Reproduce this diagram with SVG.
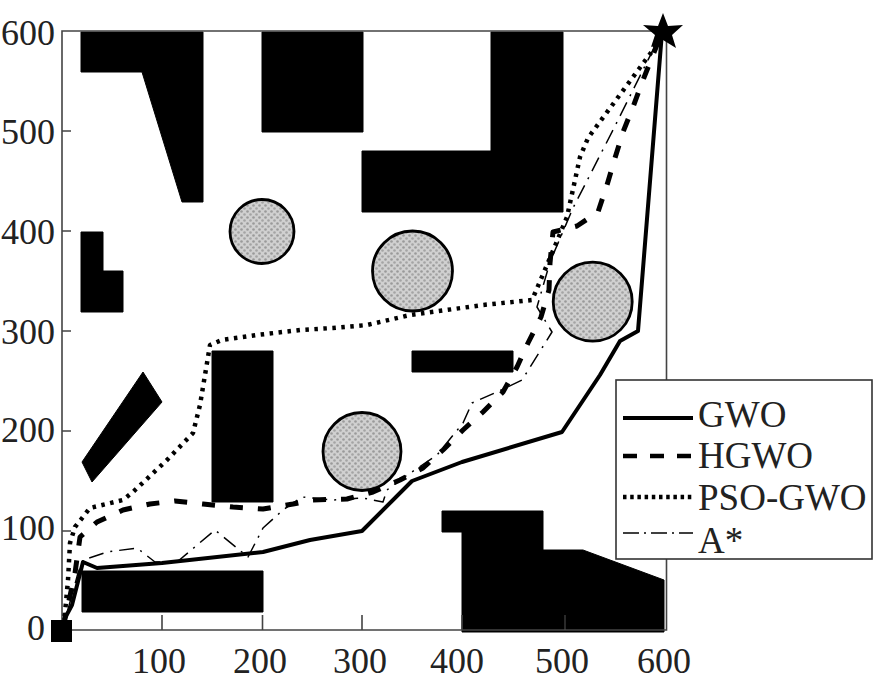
<svg xmlns="http://www.w3.org/2000/svg" width="873" height="683" viewBox="0 0 873 683">
<style>
text{font-family:"Liberation Serif","Times New Roman",serif;fill:#222}
.ax{font-size:36px}
.lg{font-size:37px}
.ob{fill:#000;stroke:#000;stroke-width:1;stroke-linejoin:round}
.ci{fill:url(#st);stroke:#000;stroke-width:2.800}
.frame{fill:none;stroke:#444;stroke-width:1.600}
.p{fill:none;stroke:#000;stroke-linejoin:round}
.gwo{stroke-width:4}
.hgwo{stroke-width:5;stroke-dasharray:13 15}
.pso{stroke-width:4.500;stroke-dasharray:3.500 5.500}
.astar{stroke-width:1.500;stroke-dasharray:15 7 2 7}
</style>
<defs>
<pattern id="st" width="6" height="6" patternUnits="userSpaceOnUse">
<rect width="6" height="6" fill="#d0d0d0"/>
<circle cx="1.500" cy="1.500" r="1.300" fill="#9a9a9a"/>
<circle cx="4.500" cy="4.500" r="1.300" fill="#a4a4a4"/>
</pattern>
</defs>
<rect width="873" height="683" fill="#fff"/>
<g id="obstacles">
<path id="ob1" class="ob" d="M81 32H203V202H182L142 72H81Z"/>
<path id="ob2" class="ob" d="M81 232H103V271H123V312H81Z"/>
<rect id="ob3" class="ob" x="262" y="32" width="101" height="100"/>
<path id="ob4" class="ob" d="M362 151H491V32H563V212H362Z"/>
<path id="ob5" class="ob" d="M143 372L162 402L92 482L82 462Z"/>
<rect id="ob6" class="ob" x="212" y="351" width="61" height="151"/>
<rect id="ob7" class="ob" x="412" y="351" width="101" height="21"/>
<rect id="ob8" class="ob" x="82" y="571" width="181" height="41"/>
<path id="ob9" class="ob" d="M442 511H543V550H583L664 580V632H462V532H442Z"/>
</g>
<g id="threats">
<circle id="c1" class="ci" cx="262" cy="231.500" r="32"/>
<circle id="c2" class="ci" cx="412.500" cy="271" r="40"/>
<circle id="c3" class="ci" cx="592.700" cy="301.700" r="39.500"/>
<circle id="c4" class="ci" cx="362" cy="451.500" r="39"/>
</g>
<g id="axes">
<path class="frame" d="M62 630V31H666.500V630H62"/>
<path class="frame" d="M62 131H71M62 231H71M62 331H71M62 431H71M62 531H71M162 630V615M262.500 630V615M362 630V615M462 630V615"/>
<path d="M565 630V615" fill="none" stroke="#555" stroke-width="1"/>
<g class="ax" text-anchor="end">
<text x="55" y="45">600</text>
<text x="55" y="144">500</text>
<text x="55" y="244">400</text>
<text x="55" y="344">300</text>
<text x="55" y="442">200</text>
<text x="55" y="540">100</text>
<text x="45" y="640">0</text>
</g>
<g class="ax" text-anchor="middle">
<text x="159" y="673">100</text>
<text x="260" y="673">200</text>
<text x="360" y="673">300</text>
<text x="457" y="673">400</text>
<text x="562" y="673">500</text>
<text x="664" y="673">600</text>
</g>
</g>
<g id="connectors">
<path id="path-astar" class="p astar" d="M67 613L78 573L83 560L107 552L137 548L155 562L177 562L215 530L248 557L263 528L283 510L302 497L333 500L363 498L383 502L387 490L400 480L437 455L463 423L472 403L497 392L522 380L552 332L537 307L550 262L573 208L613 130L662 32"/>
<path id="path-pso" class="p pso" d="M63 625L65 613L68 580L70 543L75 527L90 508L123 500L133 492L167 460L193 433L200 405L207 363L210 345L222 340L257 335L300 330L333 328L367 325L410 315L483 305L532 300L550 258L567 217L580 157L588 138L633 77L653 50L662 32"/>
<path id="path-hgwo" class="p hgwo" d="M63 628L75 573L80 537L97 522L123 510L150 504L175 501L203 504L233 507L263 509L293 504L313 500L347 499L373 492L400 480L423 468L443 450L463 430L483 412L503 392L517 367L528 343L541 317L549 290L550 263L553 232L577 226L598 212L607 185L615 158L623 132L633 107L643 80L653 55L662 32"/>
<path id="path-gwo" class="p gwo" d="M64 620L72 605L83 562L97 568L162 563L263 552L310 540L362 531L412 481L462 462L562 432L600 375L620 341L638 331L662 32"/>
</g>
<g id="start"><rect x="51" y="620" width="21" height="22" fill="#000"/></g>
<g id="goal"><path d="M663 13L668 26L683 25L672 35L676 48L663 40L651 47L655 35L643 25L658 26Z" fill="#000"/></g>
<g id="legend">
<rect x="616" y="380" width="256" height="179" fill="#fff" stroke="#333" stroke-width="1.600"/>
<path class="p gwo" d="M623 418H693"/>
<path class="p" stroke-width="4.500" stroke-dasharray="14 13" d="M623 456H693"/>
<path class="p" stroke-width="4.500" stroke-dasharray="3.500 3.700" d="M623 497H693"/>
<path class="p" stroke-width="1.500" stroke-dasharray="16 5 2 5" d="M623 533H693"/>
<g class="lg">
<text x="698" y="427">GWO</text>
<text x="698" y="468">HGWO</text>
<text x="698" y="510">PSO-GWO</text>
<text x="698" y="553">A*</text>
</g>
</g>
</svg>
